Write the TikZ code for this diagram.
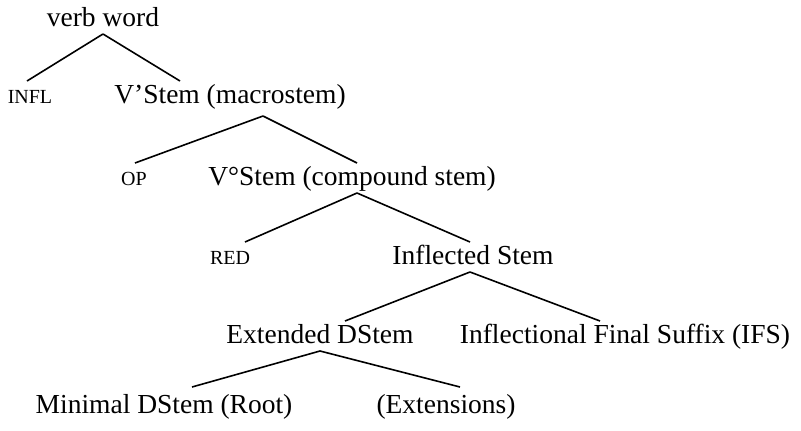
\documentclass[tikz,border=0pt]{standalone}
\usepackage{fontspec}
\setmainfont{Liberation Serif}
\usetikzlibrary{positioning}

\tikzset{
  lbl/.style={anchor=base, inner sep=0pt, outer sep=2pt, text height=20pt, text depth=6pt,
              font=\fontsize{27.5}{30}\selectfont},
  sclbl/.style={lbl, font=\fontsize{20}{22}\selectfont},
  branch/.style={line width=1.6pt},
}

\begin{document}
\begin{tikzpicture}[x=1pt, y=-1pt]
 \useasboundingbox (0,0) rectangle (801,431);
 %top
    \node[lbl] (verb) at (103,26) {verb word};
 %level 1
	\def\dy{103};
    \node[sclbl] (infl) at (30,\dy) {INFL};
    \node[lbl] (vstem) at (230,\dy) {V’Stem (macrostem)};
    \draw[branch] (verb.south) -- ([xshift=-3pt]infl.north);
    \draw[branch] (verb.south) -- ([xshift=-50pt]vstem.north);
 %level 2
	\def\dy{185};
    \node[sclbl] (op) at (134,\dy) {OP};
    \node[lbl] (vcomp) at (352,\dy) {V°Stem (compound stem)};
    \draw[branch] ([xshift=33pt,yshift=-5pt]vstem.south) -- ([xshift=1pt]op.north);
    \draw[branch] ([xshift=33pt,yshift=-5pt]vstem.south) -- ([xshift=5pt]vcomp.north);
 %level 3
	\def\dy{264};
    \node[sclbl] (red) at (230,\dy) {RED};
    \node[lbl] (inflstem) at (473,\dy) {Inflected Stem};
    \draw[branch] ([xshift=5pt]vcomp.south) -- ([xshift=15pt]red.north);
    \draw[branch] ([xshift=5pt]vcomp.south) -- ([xshift=-3pt]inflstem.north);
 %level 4
	\def\dy{343};
    \node[lbl] (extd) at (320,\dy) {Extended DStem};
    \node[lbl] (ifs) at (625,\dy) {Inflectional Final Suffix (IFS)};
    \draw[branch] ([xshift=-3pt]inflstem.south) -- ([xshift=25pt]extd.north);
    \draw[branch] ([xshift=-3pt]inflstem.south) -- ([xshift=-25pt]ifs.north);
 %level 5
	\def\dy{413};
    \node[lbl] (mind) at (164,\dy) {Minimal DStem (Root)};
    \node[lbl] (extn) at (446,\dy) {(Extensions)};
    \draw[branch] (extd.south) -- ([xshift=28pt,yshift=4pt]mind.north);
    \draw[branch] (extd.south) -- ([xshift=14pt,yshift=4pt]extn.north);
\end{tikzpicture}
\end{document}
